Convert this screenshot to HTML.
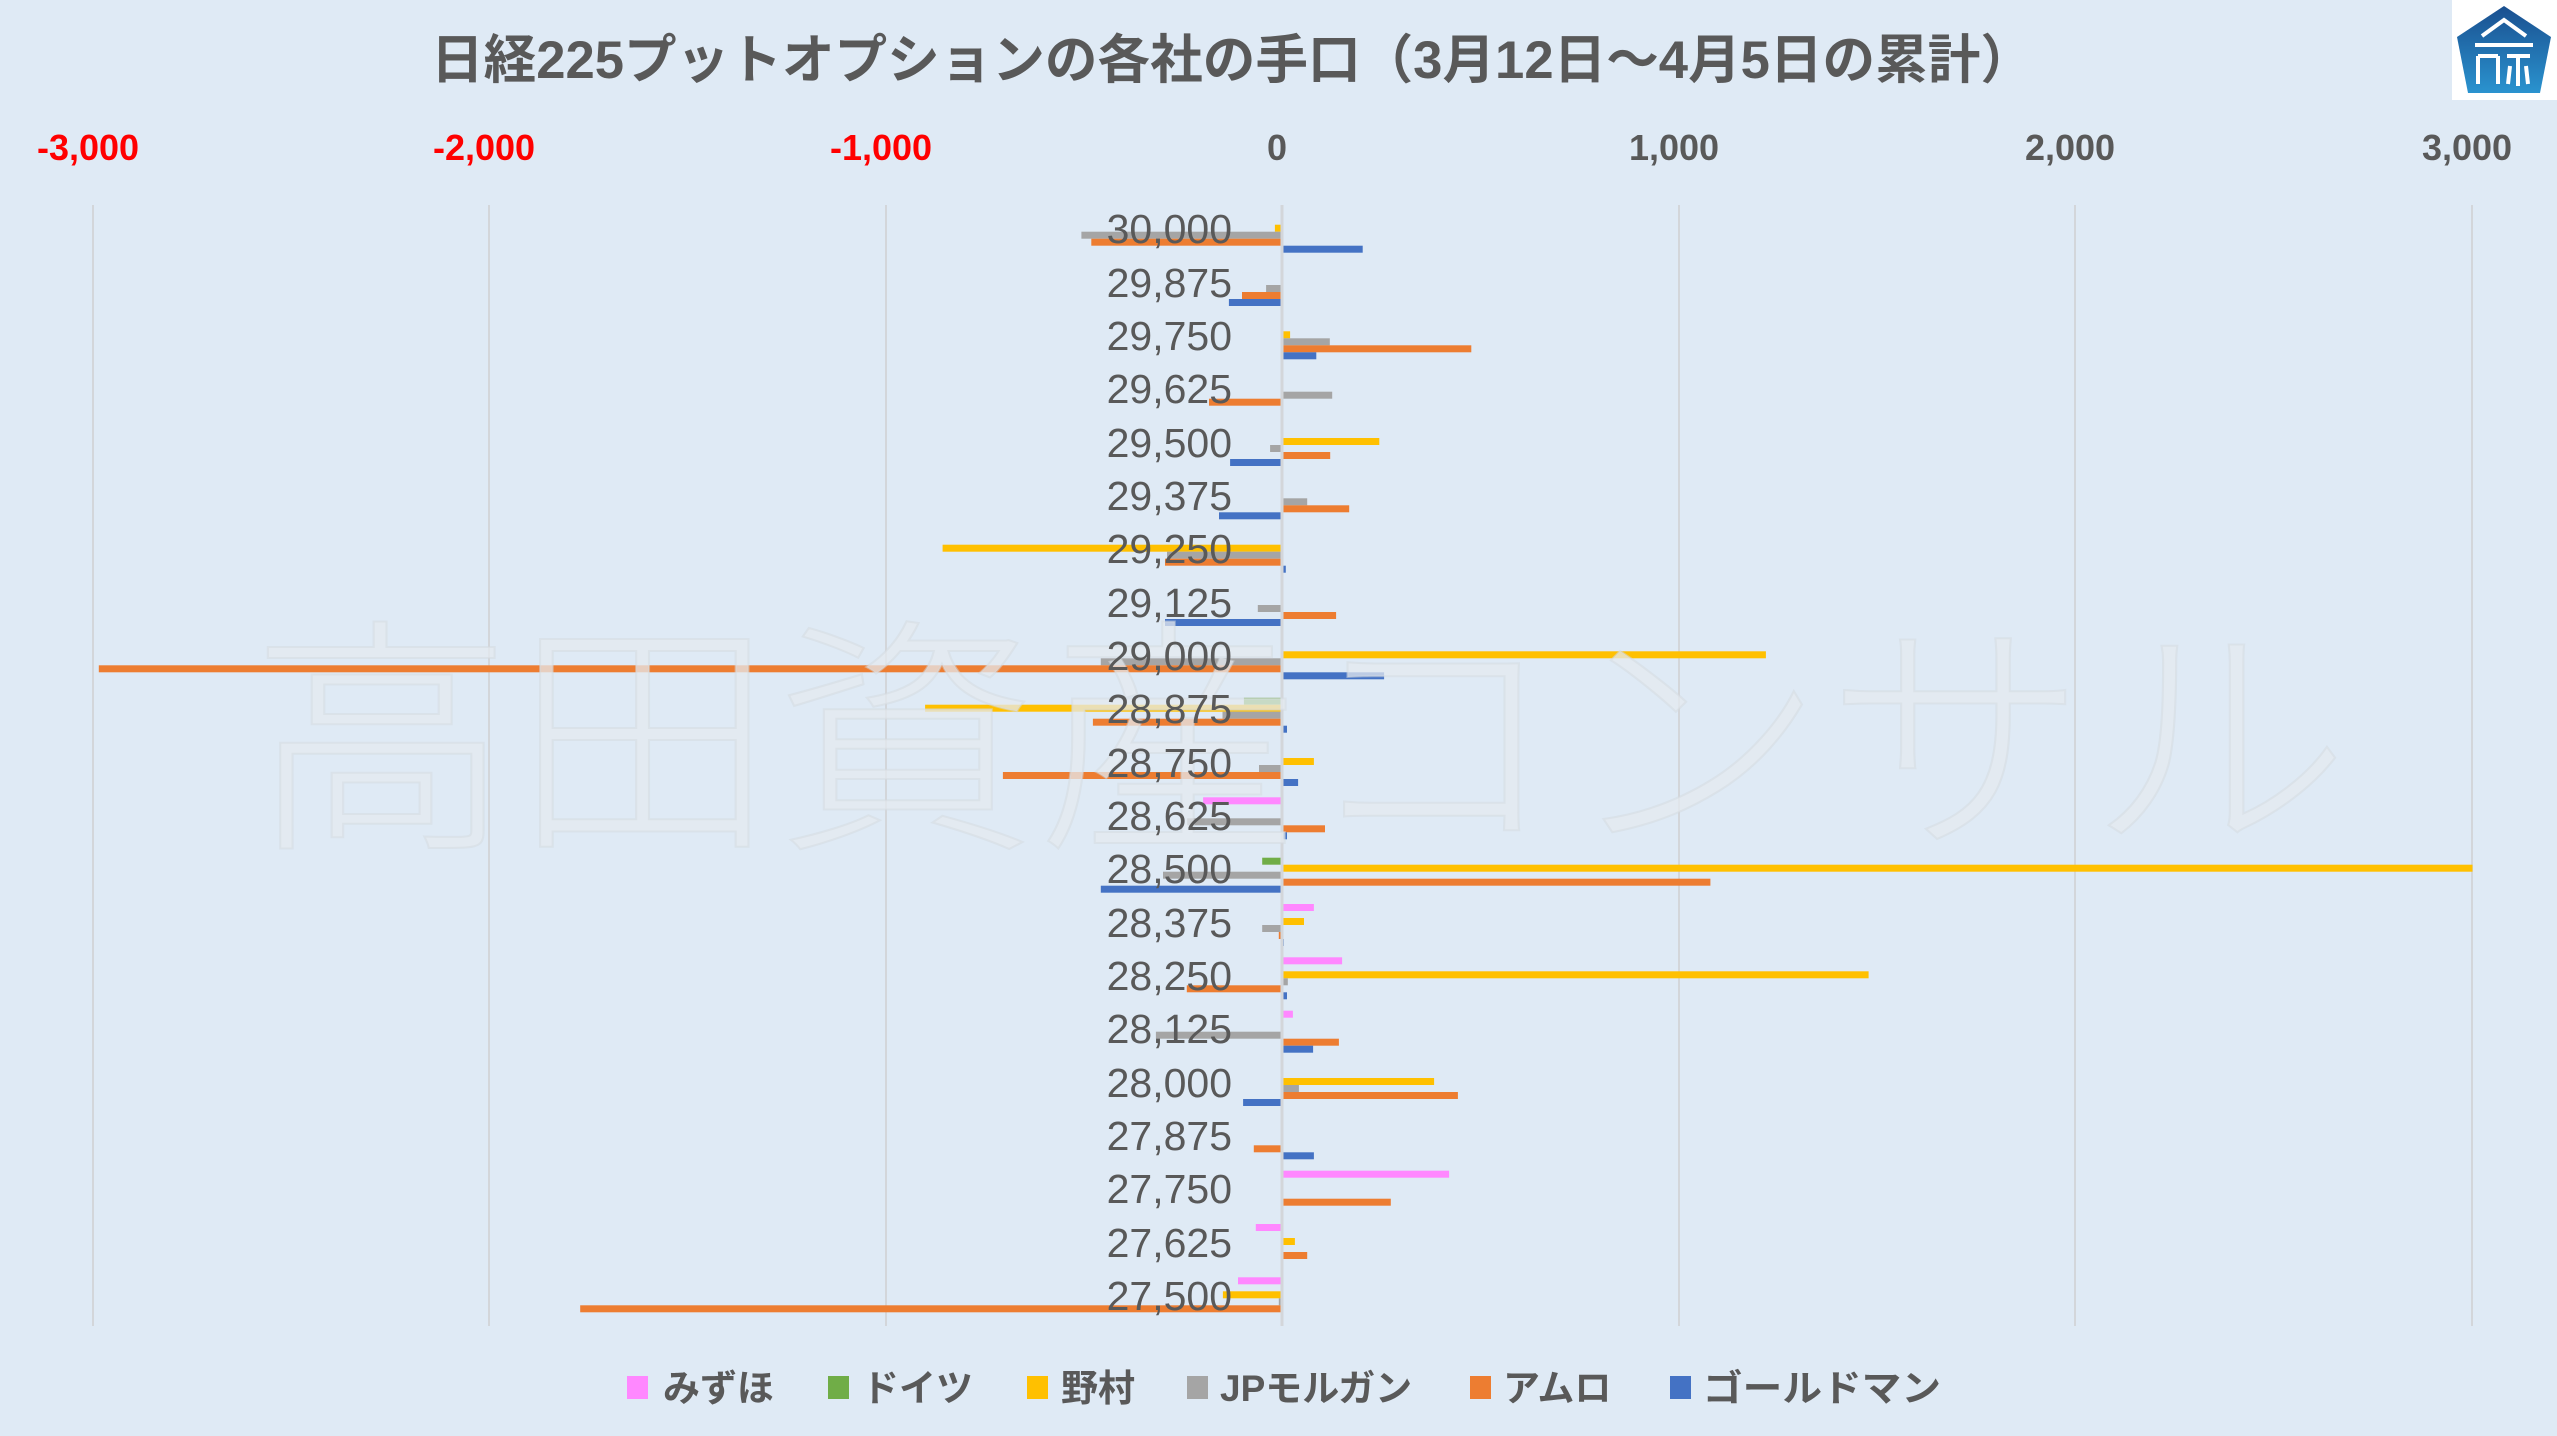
<!DOCTYPE html>
<html><head><meta charset="utf-8">
<style>
html,body{margin:0;padding:0;}
body{width:2557px;height:1436px;background:#dfeaf5;overflow:hidden;position:relative;font-family:"Liberation Sans","Noto Sans CJK JP",sans-serif;}
svg{position:absolute;left:0;top:0;}
</style></head>
<body>
<svg id="s" width="2557" height="1436" viewBox="0 0 2557 1436" xmlns="http://www.w3.org/2000/svg">
<rect width="2557" height="1436" fill="#dfeaf5"/>
<g stroke="#d3d6da" stroke-width="2">
<line x1="93" y1="205" x2="93" y2="1326"/>
<line x1="489" y1="205" x2="489" y2="1326"/>
<line x1="886" y1="205" x2="886" y2="1326"/>
<line x1="1679" y1="205" x2="1679" y2="1326"/>
<line x1="2075" y1="205" x2="2075" y2="1326"/>
<line x1="2472" y1="205" x2="2472" y2="1326"/>
</g>
<g id="bars"></g>
<line x1="1282" y1="205" x2="1282" y2="1326" stroke="#d3d6da" stroke-width="3"/>
<text x="1300" y="830" text-anchor="middle" font-size="250" fill="#e4e9ef" fill-opacity="0.75" stroke="#d4d9df" stroke-opacity="0.5" stroke-width="2" font-family="'Noto Sans CJK JP',sans-serif" font-weight="300" textLength="2100" lengthAdjust="spacingAndGlyphs">高田資産コンサル</text>
<g font-size="41" fill="#595959" text-anchor="end" font-family="'Liberation Sans',sans-serif">
<text x="1232" y="243">30,000</text>
<text x="1232" y="297">29,875</text>
<text x="1232" y="350">29,750</text>
<text x="1232" y="403">29,625</text>
<text x="1232" y="457">29,500</text>
<text x="1232" y="510">29,375</text>
<text x="1232" y="563">29,250</text>
<text x="1232" y="617">29,125</text>
<text x="1232" y="670">29,000</text>
<text x="1232" y="723">28,875</text>
<text x="1232" y="777">28,750</text>
<text x="1232" y="830">28,625</text>
<text x="1232" y="883">28,500</text>
<text x="1232" y="937">28,375</text>
<text x="1232" y="990">28,250</text>
<text x="1232" y="1043">28,125</text>
<text x="1232" y="1097">28,000</text>
<text x="1232" y="1150">27,875</text>
<text x="1232" y="1203">27,750</text>
<text x="1232" y="1257">27,625</text>
<text x="1232" y="1310">27,500</text>
</g>
<g font-size="36" font-weight="bold" text-anchor="middle" font-family="'Liberation Sans',sans-serif">
<text x="88" y="160" fill="#ff0000">-3,000</text>
<text x="484" y="160" fill="#ff0000">-2,000</text>
<text x="881" y="160" fill="#ff0000">-1,000</text>
<text x="1277" y="160" fill="#595959">0</text>
<text x="1674" y="160" fill="#595959">1,000</text>
<text x="2070" y="160" fill="#595959">2,000</text>
<text x="2467" y="160" fill="#595959">3,000</text>
</g>
<text x="1232" y="78" text-anchor="middle" font-size="53" font-weight="bold" fill="#595959" font-family="'Liberation Sans','Noto Sans CJK JP',sans-serif" textLength="1602" lengthAdjust="spacingAndGlyphs">日経225プットオプションの各社の手口（3月12日～4月5日の累計）</text>
<g font-size="37" font-weight="bold" fill="#595959" font-family="'Liberation Sans','Noto Sans CJK JP',sans-serif">
<rect x="627" y="1376" width="21" height="23" fill="#ff88ff"/><text x="663" y="1401">みずほ</text>
<rect x="828" y="1376" width="21" height="23" fill="#70ad47"/><text x="862" y="1401">ドイツ</text>
<rect x="1027" y="1376" width="21" height="23" fill="#ffc000"/><text x="1061" y="1401">野村</text>
<rect x="1187" y="1376" width="21" height="23" fill="#a5a5a5"/><text x="1220" y="1401">JPモルガン</text>
<rect x="1470" y="1376" width="21" height="23" fill="#ed7d31"/><text x="1503" y="1401">アムロ</text>
<rect x="1670" y="1376" width="21" height="23" fill="#4472c4"/><text x="1703" y="1401" textLength="238" lengthAdjust="spacingAndGlyphs">ゴールドマン</text>
</g>
<rect x="2452" y="0" width="105" height="100" fill="#ffffff"/>
<defs><linearGradient id="lg" x1="0" y1="0" x2="0" y2="1"><stop offset="0" stop-color="#1a4f8f"/><stop offset="1" stop-color="#2a93cf"/></linearGradient></defs>
<polygon points="2504,6 2551,37 2540,93 2468,93 2457,37" fill="url(#lg)"/>
<g stroke="#ffffff" stroke-width="4" fill="none">
<polyline points="2482,36 2504,20 2526,36"/>
<line x1="2475" y1="45" x2="2533" y2="45"/>
<line x1="2478" y1="56" x2="2498" y2="56"/>
<line x1="2478" y1="56" x2="2478" y2="84"/>
<line x1="2498" y1="56" x2="2498" y2="84"/>
<line x1="2507" y1="56" x2="2530" y2="56"/>
<line x1="2518" y1="56" x2="2518" y2="86"/>
<line x1="2508" y1="84" x2="2510" y2="66"/>
<line x1="2528" y1="84" x2="2526" y2="66"/>
</g>
</svg>
<script>
var data=[
[0,0,-18,-506,-481,201],
[0,0,0,-40,-101,-134],
[0,0,18,118,475,84],
[0,0,0,124,-184,0],
[0,0,243,-30,119,-131],
[0,0,0,61,167,-159],
[0,0,-856,-290,-295,7],
[0,0,0,-61,134,-295],
[0,0,1218,-457,-2984,255],
[0,-96,-900,-150,-477,10],
[0,0,78,-58,-704,38],
[-199,0,0,-239,106,10],
[0,-50,3000,-300,1078,-457],
[78,0,53,-50,-8,2],
[149,0,1477,12,-240,10],
[25,0,0,-318,141,76],
[0,0,381,40,441,-98],
[0,0,0,0,-71,78],
[419,0,0,0,272,0],
[-66,0,30,0,61,0],
[-111,0,-149,-8,-1770,0]];
var cols=["#ff88ff","#70ad47","#ffc000","#a5a5a5","#ed7d31","#4472c4"];
var g=document.getElementById("bars"),h="";
var step=1120/21,k=0.3965;
for(var i=0;i<21;i++){var c=205+step*(i+0.5);
for(var j=0;j<6;j++){var v=data[i][j];if(!v)continue;var y=c-21+7*j;var w=Math.abs(v)*k;var x=v<0?1282-w:1283;
h+='<rect x="'+x.toFixed(1)+'" y="'+y.toFixed(1)+'" width="'+w.toFixed(1)+'" height="7" fill="'+cols[j]+'"/>';}}
g.innerHTML=h;
</script>
</body></html>
